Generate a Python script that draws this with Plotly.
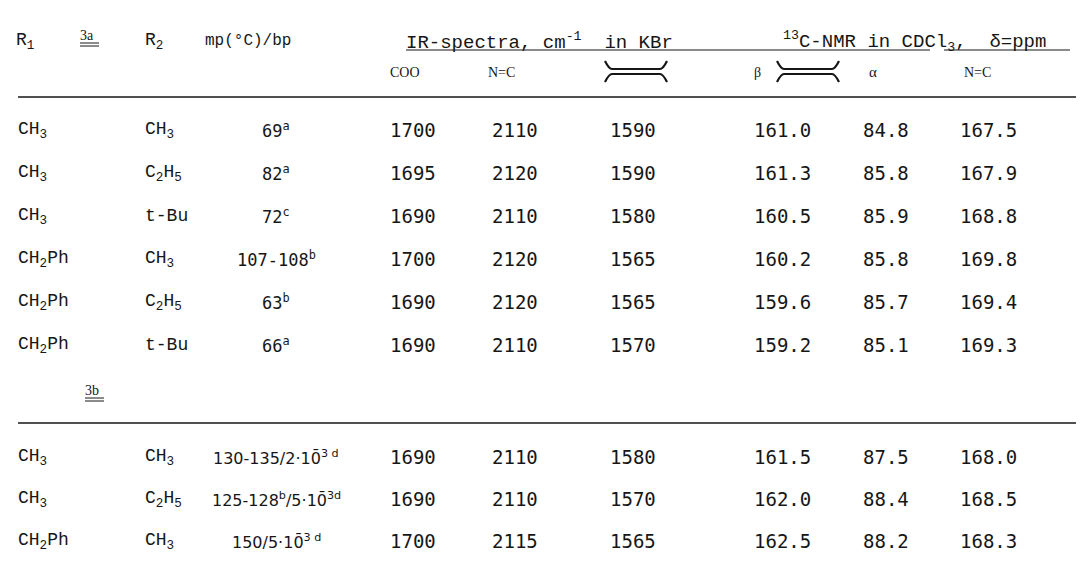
import plotly.graph_objects as go

# ---------------- data ----------------
GROUPS = ["3a", "3b"]

HEAD_TOP = ["R<sub>1</sub>", "R<sub>2</sub>", "mp(°C)/bp",
            "IR-spectra, cm<sup>-1</sup>  in KBr",
            "<sup>13</sup>C-NMR in CDCl<sub>3</sub>,  δ=ppm"]
HEAD_SUB = ["COO", "N=C", "β", "α", "N=C"]

R1_3a = ["CH<sub>3</sub>", "CH<sub>3</sub>", "CH<sub>3</sub>",
         "CH<sub>2</sub>Ph", "CH<sub>2</sub>Ph", "CH<sub>2</sub>Ph"]
R2_3a = ["CH<sub>3</sub>", "C<sub>2</sub>H<sub>5</sub>", "t-Bu",
         "CH<sub>3</sub>", "C<sub>2</sub>H<sub>5</sub>", "t-Bu"]
MP_3a = ["69<sup>a</sup>", "82<sup>a</sup>", "72<sup>c</sup>",
         "107-108<sup>b</sup>", "63<sup>b</sup>", "66<sup>a</sup>"]
COO_3a = [1700, 1695, 1690, 1700, 1690, 1690]
NC_IR_3a = [2110, 2120, 2110, 2120, 2120, 2110]
CC_IR_3a = [1590, 1590, 1580, 1565, 1565, 1570]
BETA_3a = [161.0, 161.3, 160.5, 160.2, 159.6, 159.2]
ALPHA_3a = [84.8, 85.8, 85.9, 85.8, 85.7, 85.1]
NC_NMR_3a = [167.5, 167.9, 168.8, 169.8, 169.4, 169.3]

R1_3b = ["CH<sub>3</sub>", "CH<sub>3</sub>", "CH<sub>2</sub>Ph"]
R2_3b = ["CH<sub>3</sub>", "C<sub>2</sub>H<sub>5</sub>", "CH<sub>3</sub>"]
MP_3b = ["130-135/2·10\u0304<sup>3 d</sup>",
         "125-128<sup>b</sup>/5·10\u0304<sup>3d</sup>",
         "150/5·10\u0304<sup>3 d</sup>"]
COO_3b = [1690, 1690, 1700]
NC_IR_3b = [2110, 2110, 2115]
CC_IR_3b = [1580, 1570, 1565]
BETA_3b = [161.5, 162.0, 162.5]
ALPHA_3b = [87.5, 88.4, 88.2]
NC_NMR_3b = [168.0, 168.5, 168.3]

# ---------------- layout (positions / styles) ----------------
W, H = 1084, 573
INK = "#161616"
MONO = "Liberation Mono"
DIGITS = "DejaVu Sans Mono"
SANS = "DejaVu Sans"
SERIF = "Liberation Serif"

COL_X = dict(r1=10, r2=137, mp=268, coo=382, ncir=484, ccir=602,
             beta=746, alpha=855, ncnmr=952)
HEAD_Y1, HEAD_Y2 = 33, 64
RULE1_Y, RULE2_Y = 89, 415
ROWS_3A_Y = [122, 165, 208, 251, 294, 337]
LABEL_3B_Y = 382
ROWS_3B_Y = [449, 491, 533]

annotations = []
shapes = []


def txt(x, y, s, size=18, family=MONO, anchor="left"):
    annotations.append(dict(x=x, y=y, xref="x", yref="y", text=s,
                            showarrow=False, xanchor=anchor, yanchor="middle",
                            borderpad=0, borderwidth=0,
                            font=dict(family=family, size=size, color=INK)))


def line(x0, y0, x1, y1, w=1.3):
    shapes.append(dict(type="line", xref="x", yref="y", x0=x0, y0=y0,
                       x1=x1, y1=y1, line=dict(color=INK, width=w)))


def bond(xc, yc, half=24):
    # double-bond glyph: upper stroke bends up at ends, lower bends down
    xa, xb = xc - half, xc + half
    shapes.append(dict(type="path", xref="x", yref="y",
                       path=f"M {xa-7},{yc-13} Q {xa-3},{yc-5} {xa},{yc-5} "
                            f"L {xb},{yc-5} Q {xb+3},{yc-5} {xb+7},{yc-13}",
                       line=dict(color=INK, width=2.2)))
    shapes.append(dict(type="path", xref="x", yref="y",
                       path=f"M {xa-7},{yc+8} Q {xa-3},{yc} {xa},{yc} "
                            f"L {xb},{yc} Q {xb+3},{yc} {xb+7},{yc+8}",
                       line=dict(color=INK, width=2.2)))


# header row 1
txt(8, HEAD_Y1, HEAD_TOP[0], 18)
txt(72, HEAD_Y1 - 6, GROUPS[0], 14, SERIF)
line(72, HEAD_Y1 + 2, 91, HEAD_Y1 + 2, 1)
line(72, HEAD_Y1 + 5, 91, HEAD_Y1 + 5, 1)
txt(137, HEAD_Y1, HEAD_TOP[1], 18)
txt(197, HEAD_Y1, HEAD_TOP[2], 16)
txt(398, HEAD_Y1, HEAD_TOP[3], 19)
txt(775, HEAD_Y1, HEAD_TOP[4], 19)
line(398, HEAD_Y1 + 9, 922, HEAD_Y1 + 9, 1.2)
line(936, HEAD_Y1 + 9, 1062, HEAD_Y1 + 9, 1.2)

# header row 2
txt(COL_X["coo"], HEAD_Y2, HEAD_SUB[0], 14, SERIF)
txt(COL_X["ncir"] - 4, HEAD_Y2, HEAD_SUB[1], 14, SERIF)
bond(COL_X["ccir"] + 26, HEAD_Y2 + 2)
txt(COL_X["beta"], HEAD_Y2, HEAD_SUB[2], 14, SERIF)
bond(COL_X["beta"] + 54, HEAD_Y2 + 2)
txt(COL_X["alpha"] + 6, HEAD_Y2, HEAD_SUB[3], 15, SERIF)
txt(COL_X["ncnmr"] + 4, HEAD_Y2, HEAD_SUB[4], 14, SERIF)

line(10, RULE1_Y, W, RULE1_Y, 1.4)


def rows(ys, r1, r2, mp, coo, ncir, ccir, beta, alpha, ncnmr, mp_font, mp_size):
    for i, y in enumerate(ys):
        txt(COL_X["r1"], y, r1[i], 18)
        txt(COL_X["r2"], y, r2[i], 18)
        txt(COL_X["mp"], y, mp[i], mp_size, mp_font, "center")
        txt(COL_X["coo"], y, f"{coo[i]}", 19, DIGITS)
        txt(COL_X["ncir"], y, f"{ncir[i]}", 19, DIGITS)
        txt(COL_X["ccir"], y, f"{ccir[i]}", 19, DIGITS)
        txt(COL_X["beta"], y, f"{beta[i]:.1f}", 19, DIGITS)
        txt(COL_X["alpha"], y, f"{alpha[i]:.1f}", 19, DIGITS)
        txt(COL_X["ncnmr"], y, f"{ncnmr[i]:.1f}", 19, DIGITS)


rows(ROWS_3A_Y, R1_3a, R2_3a, MP_3a, COO_3a, NC_IR_3a, CC_IR_3a,
     BETA_3a, ALPHA_3a, NC_NMR_3a, DIGITS, 17)

txt(77, LABEL_3B_Y, GROUPS[1], 14, SERIF)
line(77, LABEL_3B_Y + 8, 96, LABEL_3B_Y + 8, 1)
line(77, LABEL_3B_Y + 11, 96, LABEL_3B_Y + 11, 1)
line(10, RULE2_Y, W, RULE2_Y, 1.4)

rows(ROWS_3B_Y, R1_3b, R2_3b, MP_3b, COO_3b, NC_IR_3b, CC_IR_3b,
     BETA_3b, ALPHA_3b, NC_NMR_3b, SANS, 16)

fig = go.Figure()
fig.update_layout(
    width=W, height=H,
    margin=dict(l=0, r=0, t=0, b=0),
    paper_bgcolor="white", plot_bgcolor="white",
    xaxis=dict(range=[0, W], visible=False, fixedrange=True),
    yaxis=dict(range=[H, 0], visible=False, fixedrange=True),
    annotations=annotations, shapes=shapes, showlegend=False,
)
fig.write_html("out.html")
